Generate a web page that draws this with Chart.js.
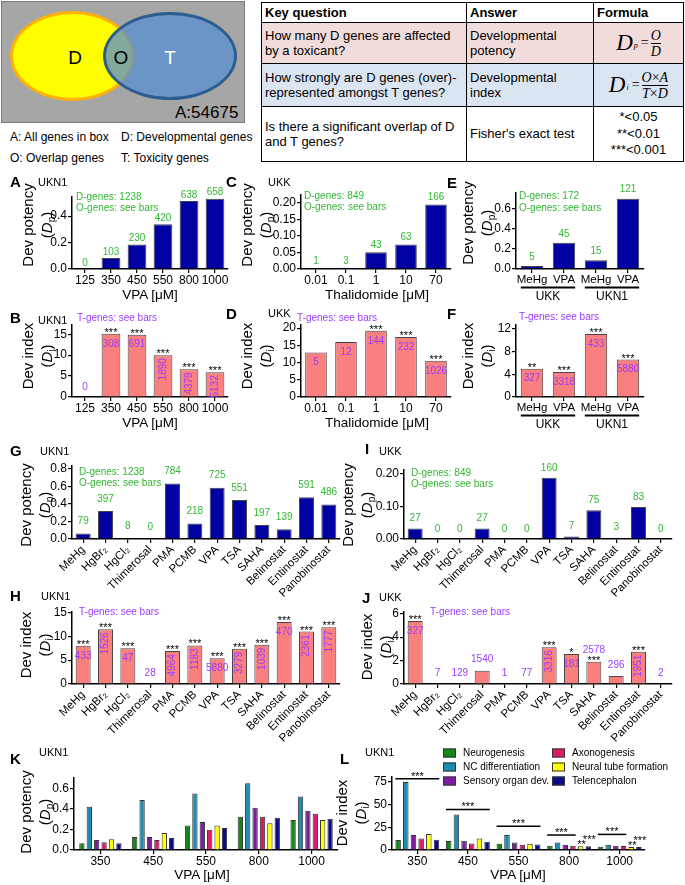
<!DOCTYPE html>
<html>
<head>
<meta charset="utf-8">
<script src="https://cdn.jsdelivr.net/npm/chart.js"></script>
<style>
  body { margin: 0; background: #fff; }
  #fig { position: relative; width: 685px; height: 885px; overflow: hidden; background: #fff;
         font-family: 'Liberation Sans', Arial, sans-serif; color: #000; }
  #fig canvas { position: absolute; }
  .lb { position: absolute; white-space: nowrap; transform: translateY(-50%); line-height: 1; z-index: 2; }
  .lb sub { font-size: 10px; vertical-align: -3px; line-height: 0; }
  #tbl { position: absolute; left: 261px; top: 2px; width: 422px; border-collapse: collapse;
         table-layout: fixed; font-size: 13px; }
  #tbl td, #tbl th { border: 1px solid #000; padding: 0 3px; line-height: 15.5px; text-align: left;
         vertical-align: middle; }
  #tbl th { height: 19px; font-weight: bold; }
  #tbl .fc { text-align: center; padding: 0; }
  .fx { font-family: 'Liberation Serif', 'DejaVu Serif', serif; display: inline-flex; align-items: center; }
  .fx .big { font-size: 23px; }
  .fx sub { font-size: 8px; align-self: flex-end; margin: 0 1px 5px 1px; font-style: italic; }
  .fx .eq { font-size: 14px; margin: 0 2px; }
  .frac { display: inline-flex; flex-direction: column; align-items: center; font-size: 14px; line-height: 15px; }
  .frac .den { border-top: 1px solid #000; }
</style>
</head>
<body>
<div id="fig">
  <!-- venn -->
  <div style="position:absolute;left:1px;top:1px;width:242px;height:120px;background:#a6a6a6;border:1px solid #7a7a7a;"></div>
  <div style="position:absolute;left:10px;top:11px;width:119px;height:84px;border-radius:50%;background:#ffff00;border:3px solid #ffb000;"></div>
  <div style="position:absolute;left:103px;top:12px;width:128px;height:82px;border-radius:50%;background:rgba(87,141,209,0.75);border:3px solid #2d5c8f;"></div>

  <table id="tbl">
    <col style="width:205px"><col style="width:127px"><col style="width:90px">
    <tr><th>Key question</th><th>Answer</th><th>Formula</th></tr>
    <tr style="background:#f2dcdb;height:41px">
      <td>How many D genes are affected<br>by a toxicant?</td>
      <td>Developmental<br>potency</td>
      <td class="fc"><span class="fx"><i class="big">D</i><sub>p</sub><span class="eq">=</span><span class="frac"><i>O</i><i class="den">D</i></span></span></td>
    </tr>
    <tr style="background:#dbe5f1;height:43px">
      <td>How strongly are D genes (over)-<br>represented amongst T genes?</td>
      <td>Developmental<br>index</td>
      <td class="fc"><span class="fx"><i class="big">D</i><sub>i</sub><span class="eq">=</span><span class="frac"><span><i>O</i>×<i>A</i></span><span class="den"><i>T</i>×<i>D</i></span></span></span></td>
    </tr>
    <tr style="height:55px">
      <td>Is there a significant overlap of D<br>and T genes?</td>
      <td>Fisher's exact test</td>
      <td class="fc" style="line-height:16.5px">*&lt;0.05<br>**&lt;0.01<br>***&lt;0.001</td>
    </tr>
  </table>
</div>

<script>
// ---------- data ----------
const vpaDoses = ['125', '350', '450', '550', '800', '1000'];
const aPotency = [0, 0.083, 0.186, 0.339, 0.515, 0.532];
const aOgenes = [0, 103, 230, 420, 638, 658];
const bIndex = [0, 15.1, 14.9, 10.0, 6.6, 5.9];
const bTgenes = [0, 308, 691, 1890, 4379, 5132];
const bStars = ['', '***', '***', '***', '***', '***'];

const thalDoses = ['0.01', '0.1', '1', '10', '70'];
const cPotency = [0.0012, 0.0035, 0.0506, 0.0742, 0.1955];
const cOgenes = [1, 3, 43, 63, 166];
const dIndex = [12.9, 16.0, 19.2, 17.4, 10.5];
const dTgenes = [5, 12, 144, 232, 1026];
const dStars = ['', '', '***', '***', '***'];

const efCats = ['MeHg', 'VPA', 'MeHg', 'VPA'];
const efGroups = ['UKK', 'UKN1'];
const efGroupBars = [[0, 1], [2, 3]];
const ePotency = [0.029, 0.262, 0.087, 0.703];
const eOgenes = [5, 45, 15, 121];
const fIndex = [5.0, 4.4, 11.1, 6.6];
const fTgenes = [327, 3318, 433, 5880];
const fStars = ['**', '***', '***', '***'];

const compounds = ['MeHg', 'HgBr₂', 'HgCl₂', 'Thimerosal', 'PMA', 'PCMB', 'VPA', 'TSA', 'SAHA',
                   'Belinostat', 'Entinostat', 'Panobinostat'];
const gPotency = [0.064, 0.321, 0.006, 0, 0.633, 0.176, 0.586, 0.445, 0.159, 0.112, 0.477, 0.393];
const gOgenes = [79, 397, 8, 0, 784, 218, 725, 551, 197, 139, 591, 486];
const hIndex = [8.0, 11.5, 7.5, 0, 6.9, 8.1, 5.4, 7.4, 8.25, 13.0, 11.0, 11.9];
const hTgenes = [433, 1526, 47, 28, 4964, 1183, 5880, 3279, 1039, 470, 2361, 1777];
const hStars = ['***', '***', '***', '', '***', '***', '***', '***', '***', '***', '***', '***'];
const iPotency = [0.032, 0, 0, 0.032, 0, 0, 0.188, 0.008, 0.088, 0.004, 0.098, 0];
const iOgenes = [27, 0, 0, 27, 0, 0, 160, 7, 75, 3, 83, 0];
const jIndex = [5.38, 0, 0, 1.14, 0, 0, 3.14, 2.56, 1.91, 0.68, 2.76, 0];
const jTgenes = [327, 7, 129, 1540, 1, 77, 3316, 181, 2578, 296, 1951, 2];
const jStars = ['***', '', '', '', '', '', '***', '*', '***', '', '***', ''];

const klDoses = ['350', '450', '550', '800', '1000'];
const processes = ['Neurogenesis', 'NC differentiation', 'Sensory organ dev.', 'Axonogenesis',
                   'Neural tube formation', 'Telencephalon'];
const processColors = ['#13861a', '#1e8cae', '#7a1f9e', '#dc1a6a', '#ffff00', '#0c0c88'];
const kNeurogenesis = [0.065, 0.126, 0.237, 0.324, 0.292];
const kNCdiff = [0.42, 0.486, 0.55, 0.648, 0.519];
const kSensory = [0.097, 0.126, 0.272, 0.41, 0.382];
const kAxonogenesis = [0.075, 0.097, 0.198, 0.324, 0.353];
const kNeuralTube = [0.104, 0.165, 0.237, 0.259, 0.292];
const kTelencephalon = [0.065, 0.117, 0.214, 0.314, 0.305];
const lNeurogenesis = [11, 9.9, 6.9, 4.8, 3.7];
const lNCdiff = [75, 39.2, 16.5, 8.4, 5.9];
const lSensory = [16.5, 10.2, 8.4, 5.9, 4.8];
const lAxonogenesis = [12.8, 7.3, 5.9, 4.8, 4.4];
const lNeuralTube = [17.6, 12.8, 6.9, 4.0, 3.3];
const lTelencephalon = [11.3, 9.1, 6.2, 4.0, 3.3];
const lBracketLevel = [78.7, 44.7, 26.3, 16.5, 17.2];
const lBracketLast = [5, 5, 5, 3, 3];
const lExtraStars = [[3, 4, '**'], [3, 5, '***'], [4, 4, '**'], [4, 5, '***']];

const ticksDp55 = [0, 0.1, 0.2, 0.3, 0.4, 0.5];
const ticksDi15 = [0, 5, 10, 15];
const ticksDp020 = [0, 0.05, 0.1, 0.15, 0.2];
const ticksDi20 = [0, 5, 10, 15, 20];
const ticksDp06 = [0, 0.2, 0.4, 0.6];
const ticksDi12 = [0, 2, 4, 6, 8, 10, 12];
const ticksDp08 = [0, 0.2, 0.4, 0.6, 0.8];
const ticksDi6 = [0, 2, 4, 6];
const ticksDi75 = [0, 25, 50, 75];

// ---------- drawing ----------
const FONT = "'Liberation Sans', Arial, sans-serif";
Chart.defaults.font.family = FONT;
Chart.defaults.font.size = 12;
Chart.defaults.color = '#000';

const BLUE = '#0000a3', PINK = '#fa7f7f', GREEN = '#33b633', PURPLE = '#9a3cff';
const fig = document.getElementById('fig');
const PAD_L = 56, PAD_T = 24, PAD_R = 14;

function barPanel(p) {
  const left = p.plotL - PAD_L, top = p.plotT - PAD_T;
  const w = p.plotR + PAD_R - left, h = p.plotB + p.xH - top;
  const cv = document.createElement('canvas');
  cv.width = w; cv.height = h;
  cv.style.left = left + 'px'; cv.style.top = top + 'px';
  fig.appendChild(cv);
  const rot = p.rot || 0;
  const grid = { drawOnChartArea: false, offset: false, tickLength: 4, color: '#000', lineWidth: 1.2 };
  return new Chart(cv, {
    type: 'bar',
    data: { labels: p.labels, datasets: p.datasets },
    options: {
      responsive: false,
      animation: false,
      layout: { padding: { left: 0, top: PAD_T, right: PAD_R, bottom: 0 } },
      plugins: { legend: { display: false }, tooltip: { enabled: false } },
      scales: {
        x: {
          grid: grid,
          border: { color: '#000', width: 1.5 },
          ticks: { autoSkip: false, padding: 0, minRotation: rot, maxRotation: rot,
                   font: { size: p.xFont || 12 } },
          afterFit: s => { s.height = p.xH; }
        },
        y: {
          min: 0, max: p.max,
          grid: grid,
          border: { color: '#000', width: 1.5 },
          ticks: { padding: 1, callback: v => v.toFixed(p.dec) },
          afterBuildTicks: s => { s.ticks = p.ticks.map(v => ({ value: v })); },
          afterFit: s => { s.width = PAD_L; }
        }
      }
    },
    plugins: p.plugins || []
  });
}

function single(values, color, pct) {
  return [{ data: values, backgroundColor: color, borderColor: '#444', borderWidth: 1,
            barPercentage: pct, categoryPercentage: 1 }];
}

// numbers on/above bars, plus significance stars
function barLabels(cfg) {
  return {
    id: 'barLabels',
    afterDatasetsDraw(chart) {
      const ctx = chart.ctx;
      chart.getDatasetMeta(0).data.forEach((bar, i) => {
        const txt = String(cfg.values[i]);
        const mode = Array.isArray(cfg.mode) ? cfg.mode[i] : cfg.mode;
        ctx.save();
        ctx.fillStyle = cfg.color;
        ctx.font = '10px ' + FONT;
        ctx.textAlign = 'center';
        ctx.textBaseline = 'middle';
        if (mode === 'above') {
          ctx.fillText(txt, bar.x, bar.y - cfg.gap);
        } else if (mode === 'in') {
          ctx.fillText(txt, bar.x, bar.y + 10);
        } else if (mode === 'rot') {
          ctx.translate(bar.x, bar.y + 3);
          ctx.rotate(-Math.PI / 2);
          ctx.textAlign = 'right';
          ctx.fillText(txt, 0, 0);
        }
        ctx.restore();
        if (cfg.stars && cfg.stars[i]) {
          ctx.save();
          ctx.fillStyle = '#000';
          ctx.font = '11px ' + FONT;
          ctx.textAlign = 'center';
          ctx.textBaseline = 'middle';
          ctx.fillText(cfg.stars[i], bar.x, bar.y - 1);
          ctx.restore();
        }
      });
    }
  };
}

// UKK / UKN1 underline groups for E and F
function groupLines(names, bars) {
  return {
    id: 'groupLines',
    afterDraw(chart) {
      const ctx = chart.ctx, meta = chart.getDatasetMeta(0);
      const y0 = chart.scales.y.getPixelForValue(0);
      ctx.save();
      ctx.strokeStyle = '#000'; ctx.lineWidth = 2;
      ctx.fillStyle = '#000'; ctx.font = '12px ' + FONT;
      ctx.textAlign = 'center'; ctx.textBaseline = 'middle';
      names.forEach((n, g) => {
        const a = meta.data[bars[g][0]], b = meta.data[bars[g][1]];
        const x1 = a.x - a.width / 2, x2 = b.x + b.width / 2;
        ctx.beginPath(); ctx.moveTo(x1, y0 + 18.5); ctx.lineTo(x2, y0 + 18.5); ctx.stroke();
        ctx.fillText(n, (x1 + x2) / 2, y0 + 28);
      });
      ctx.restore();
    }
  };
}

// A
barPanel({ plotL: 72, plotR: 228, plotT: 197, plotB: 269, xH: 20, max: 0.545, ticks: ticksDp55, dec: 1,
  labels: vpaDoses, datasets: single(aPotency, BLUE, 0.72),
  plugins: [barLabels({ values: aOgenes, color: GREEN, mode: 'above', gap: 6 })] });
// B
barPanel({ plotL: 72, plotR: 228, plotT: 325, plotB: 397, xH: 20, max: 17.2, ticks: ticksDi15, dec: 0,
  labels: vpaDoses, datasets: single(bIndex, PINK, 0.72),
  plugins: [barLabels({ values: bTgenes, color: PURPLE, gap: 10, stars: bStars,
                        mode: ['above', 'in', 'in', 'rot', 'rot', 'rot'] })] });
// C
barPanel({ plotL: 301, plotR: 451, plotT: 195, plotB: 269, xH: 20, max: 0.224, ticks: ticksDp020, dec: 2,
  labels: thalDoses, datasets: single(cPotency, BLUE, 0.72),
  plugins: [barLabels({ values: cOgenes, color: GREEN, mode: 'above', gap: 7 })] });
// D
barPanel({ plotL: 301, plotR: 451, plotT: 325, plotB: 397, xH: 20, max: 20.9, ticks: ticksDi20, dec: 0,
  labels: thalDoses, datasets: single(dIndex, PINK, 0.72),
  plugins: [barLabels({ values: dTgenes, color: PURPLE, mode: 'in', stars: dStars })] });
// E
barPanel({ plotL: 516, plotR: 644, plotT: 193, plotB: 269, xH: 36, max: 0.76, ticks: ticksDp06, dec: 1,
  labels: efCats, xFont: 11.5, datasets: single(ePotency, BLUE, 0.7),
  plugins: [barLabels({ values: eOgenes, color: GREEN, mode: 'above', gap: 9 }), groupLines(efGroups, efGroupBars)] });
// F
barPanel({ plotL: 516, plotR: 644, plotT: 325, plotB: 397, xH: 36, max: 12.7, ticks: ticksDi12, dec: 0,
  labels: efCats, xFont: 11.5, datasets: single(fIndex, PINK, 0.7),
  plugins: [barLabels({ values: fTgenes, color: PURPLE, mode: 'in', stars: fStars }), groupLines(efGroups, efGroupBars)] });
// G
barPanel({ plotL: 72, plotR: 340, plotT: 466, plotB: 539, xH: 62, max: 0.834, ticks: ticksDp08, dec: 1, rot: 45,
  labels: compounds, xFont: 11.5, datasets: single(gPotency, BLUE, 0.67),
  plugins: [barLabels({ values: gOgenes, color: GREEN, mode: 'above', gap: 12 })] });
// I
barPanel({ plotL: 404, plotR: 672, plotT: 470, plotB: 539, xH: 62, max: 0.212, ticks: ticksDp020, dec: 2, rot: 45,
  labels: compounds, xFont: 11.5, datasets: single(iPotency, BLUE, 0.67),
  plugins: [barLabels({ values: iOgenes, color: GREEN, mode: 'above', gap: 10 })] });
// H
barPanel({ plotL: 72, plotR: 340, plotT: 612, plotB: 684, xH: 62, max: 15.1, ticks: ticksDi15, dec: 0, rot: 45,
  labels: compounds, xFont: 11.5, datasets: single(hIndex, PINK, 0.67),
  plugins: [barLabels({ values: hTgenes, color: PURPLE, gap: 11, stars: hStars,
    mode: ['in', 'rot', 'in', 'above', 'rot', 'rot', 'in', 'rot', 'rot', 'in', 'rot', 'rot'] })] });
// J
barPanel({ plotL: 404, plotR: 672, plotT: 612, plotB: 684, xH: 62, max: 6.15, ticks: ticksDi6, dec: 0, rot: 45,
  labels: compounds, xFont: 11.5, datasets: single(jIndex, PINK, 0.67),
  plugins: [barLabels({ values: jTgenes, color: PURPLE, gap: 11, stars: jStars,
    mode: ['in', 'above', 'above', 'above', 'above', 'above', 'rot', 'in', 'above', 'above', 'rot', 'above'] })] });

function grouped(series, catPct) {
  return series.map((s, k) => ({ label: processes[k], data: s, backgroundColor: processColors[k],
    borderColor: '#333', borderWidth: 1, barPercentage: 0.72, categoryPercentage: catPct }));
}
// K
barPanel({ plotL: 74, plotR: 338, plotT: 778, plotB: 850, xH: 20, max: 0.7, ticks: ticksDp06, dec: 1,
  labels: klDoses,
  datasets: grouped([kNeurogenesis, kNCdiff, kSensory, kAxonogenesis, kNeuralTube, kTelencephalon], 0.84) });
// L
const lBrackets = {
  id: 'lBrackets',
  afterDatasetsDraw(chart) {
    const ctx = chart.ctx, ys = chart.scales.y;
    ctx.save();
    ctx.strokeStyle = '#000'; ctx.lineWidth = 1.5;
    ctx.fillStyle = '#000'; ctx.font = '11px ' + FONT;
    ctx.textAlign = 'center'; ctx.textBaseline = 'middle';
    lBracketLevel.forEach((lvl, g) => {
      const a = chart.getDatasetMeta(0).data[g], b = chart.getDatasetMeta(lBracketLast[g]).data[g];
      const x1 = a.x - a.width / 2, x2 = b.x + b.width / 2, y = ys.getPixelForValue(lvl);
      ctx.beginPath(); ctx.moveTo(x1, y); ctx.lineTo(x2, y); ctx.stroke();
      ctx.fillText('***', (x1 + x2) / 2, y - 2);
    });
    lExtraStars.forEach(([g, k, s]) => {
      const bar = chart.getDatasetMeta(k).data[g];
      ctx.fillText(s, bar.x + 1, bar.y - (s.length > 2 ? 6 : 1));
    });
    ctx.restore();
  }
};
barPanel({ plotL: 392, plotR: 645, plotT: 777, plotB: 850, xH: 20, max: 80.5, ticks: ticksDi75, dec: 0,
  labels: klDoses,
  datasets: grouped([lNeurogenesis, lNCdiff, lSensory, lAxonogenesis, lNeuralTube, lTelencephalon], 0.91),
  plugins: [lBrackets] });

// ---------- text overlays ----------
function label(x, y, html, css) {
  const d = document.createElement('div');
  d.className = 'lb';
  d.style.left = x + 'px';
  d.style.top = y + 'px';
  if (css) d.style.cssText += css;
  d.innerHTML = html;
  fig.appendChild(d);
}
const center = 'transform:translate(-50%,-50%);';
function yTitle(cx, cy, name, sub) {
  label(cx, cy, name + '<br>(<i>D</i><sub>' + sub + '</sub>)',
    'transform:translate(-50%,-50%) rotate(-90deg);text-align:center;font-size:15px;line-height:19px;');
}

// venn texts
label(75, 57, 'D', center + 'font-size:19px;');
label(121, 57, 'O', center + 'font-size:19px;');
label(170, 57, 'T', center + 'font-size:19px;color:#fff;');
label(175, 112, 'A:54675', 'font-size:17px;');
label(10, 137, 'A: All genes in box', 'font-size:12px;');
label(121, 137, 'D: Developmental genes', 'font-size:12px;');
label(10, 158, 'O: Overlap genes', 'font-size:12px;');
label(121, 158, 'T: Toxicity genes', 'font-size:12px;');

// panel letters and cell lines
[['A', 10, 181], ['B', 10, 317], ['C', 226, 181], ['D', 226, 313], ['E', 447, 182], ['F', 447, 313],
 ['G', 10, 450], ['I', 365, 448], ['H', 10, 595], ['J', 362, 597], ['K', 10, 758], ['L', 340, 758]]
  .forEach(([t, x, y]) => label(x, y, t, 'font-size:15px;font-weight:bold;'));
[['UKN1', 38, 182], ['UKN1', 38, 320], ['UKK', 268, 182], ['UKK', 268, 313], ['UKN1', 40, 451],
 ['UKK', 379, 451], ['UKN1', 41, 596], ['UKK', 379, 597], ['UKN1', 39, 752], ['UKN1', 365, 752]]
  .forEach(([t, x, y]) => label(x, y, t, 'font-size:11px;'));

// gene count notes
const g10 = 'font-size:10px;color:' + GREEN + ';';
const p10 = 'font-size:10px;color:' + PURPLE + ';';
label(76, 197, 'D-genes: 1238', g10); label(76, 208, 'O-genes: see bars', g10);
label(304, 196, 'D-genes: 849', g10); label(304, 207, 'O-genes: see bars', g10);
label(519, 196, 'D-genes: 172', g10); label(519, 208, 'O-genes: see bars', g10);
label(79, 472, 'D-genes: 1238', g10); label(79, 483, 'O-genes: see bars', g10);
label(411, 473, 'D-genes: 849', g10); label(411, 484, 'O-genes: see bars', g10);
label(77, 318, 'T-genes: see bars', p10);
label(297, 318, 'T-genes: see bars', p10);
label(519, 317, 'T-genes: see bars', p10);
label(79, 612, 'T-genes: see bars', p10);
label(430, 612, 'T-genes: see bars', p10);

// axis titles
const xt = center + 'font-size:13.5px;';
label(150, 295, 'VPA [μM]', xt); label(150, 423, 'VPA [μM]', xt);
label(377, 295, 'Thalidomide [μM]', xt); label(377, 423, 'Thalidomide [μM]', xt);
label(202, 875, 'VPA [μM]', xt); label(518, 875, 'VPA [μM]', xt);
yTitle(37, 225, 'Dev potency', 'p'); yTitle(37, 356, 'Dev index', 'i');
yTitle(256, 225, 'Dev potency', 'p'); yTitle(256, 356, 'Dev index', 'i');
yTitle(477, 223, 'Dev potency', 'p'); yTitle(477, 356, 'Dev index', 'i');
yTitle(35, 505, 'Dev potency', 'p'); yTitle(35, 645, 'Dev index', 'i');
yTitle(357, 505, 'Dev potency', 'p'); yTitle(376, 647, 'Dev index', 'i');
yTitle(35, 812, 'Dev potency', 'p'); yTitle(351, 813, 'Dev index', 'i');

// legend for L
processes.forEach((name, k) => {
  const x = k < 3 ? 443 : 552, y = 753 + (k % 3) * 14;
  label(x, y, '', 'width:11px;height:7px;border:1px solid #333;background:' + processColors[k] + ';');
  label(x + 20, y, name, 'font-size:10px;');
});
</script>
</body>
</html>
